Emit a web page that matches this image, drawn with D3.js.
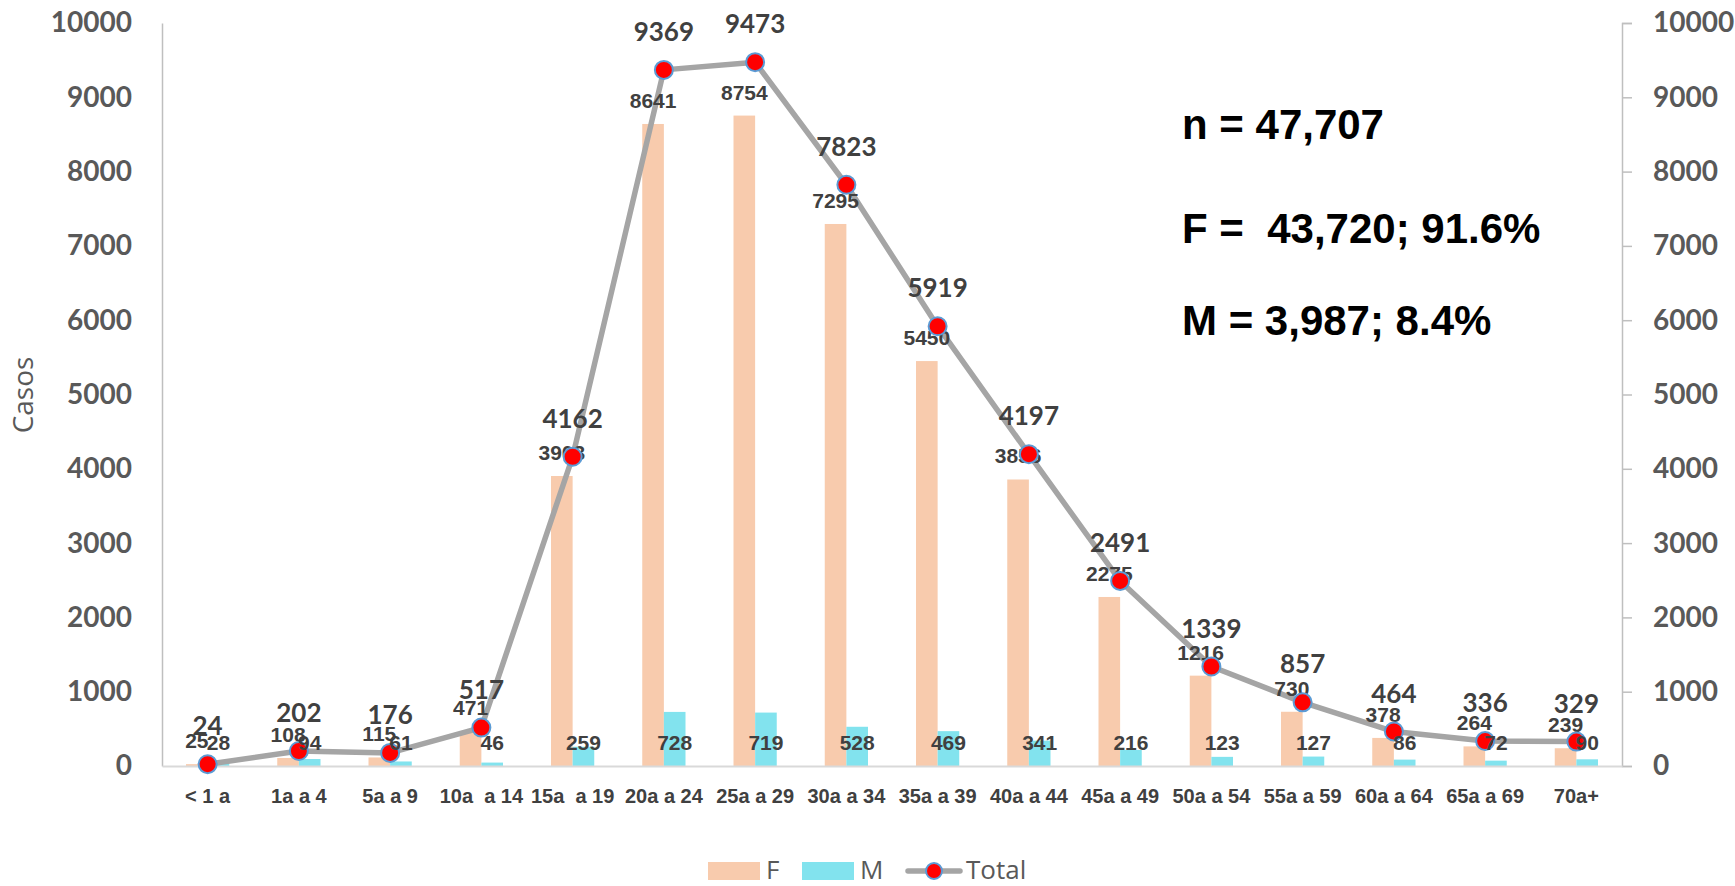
<!DOCTYPE html>
<html><head><meta charset="utf-8">
<script src="https://cdn.jsdelivr.net/npm/d3@7/dist/d3.min.js"></script>
<style>
html,body{margin:0;padding:0;background:#fff;}
svg{display:block;}
</style></head>
<body>
<svg id="chart" width="1735" height="886"></svg>
<script>
const categories = ["< 1 a","1a a 4","5a a 9","10a  a 14","15a  a 19","20a a 24","25a a 29","30a a 34","35a a 39","40a a 44","45a a 49","50a a 54","55a a 59","60a a 64","65a a 69","70a+"];
const femaleValues = [25,108,115,471,3903,8641,8754,7295,5450,3856,2275,1216,730,378,264,239];
const maleValues = [28,94,61,46,259,728,719,528,469,341,216,123,127,86,72,90];
const totalValues = [24,202,176,517,4162,9369,9473,7823,5919,4197,2491,1339,857,464,336,329];
const yTicks = [0,1000,2000,3000,4000,5000,6000,7000,8000,9000,10000];
const seriesNames = ["F","M","Total"];
const notes = ["n = 47,707","F =  43,720; 91.6%","M = 3,987; 8.4%"];
const yTitle = "Casos";

const colF = "#F8CBAD", colM = "#82E3EE", colLine = "#A5A5A5";
const svg = d3.select("#chart");
const L = 162, R = 1622, T = 23, B = 766;

const x = d3.scaleBand().domain(categories).range([L, R]).padding(0);
const x1 = d3.scaleBand().domain(["F","M"]).range([0, x.bandwidth()]).paddingInner(0).paddingOuter(1.11);
const y = d3.scaleLinear().domain([0, 10000]).range([B, T]);
const cx = c => x(c) + x.bandwidth()/2;

// axes
const la = svg.append("g").attr("transform", `translate(${L},0)`)
  .call(d3.axisLeft(y).tickValues(yTicks).tickSize(0).tickPadding(30).tickFormat(d3.format("d")));
la.select(".domain").attr("stroke", "#BFBFBF").attr("stroke-width", 1.5);
la.selectAll("text").attr("font-family","Lato, 'Open Sans', sans-serif").attr("font-weight","bold")
  .attr("font-size", 28).attr("fill","#595959");

const ra = svg.append("g").attr("transform", `translate(${R},0)`)
  .call(d3.axisRight(y).tickValues(yTicks).tickSize(10).tickPadding(21).tickFormat(d3.format("d")));
ra.select(".domain").attr("stroke", "#BFBFBF").attr("stroke-width", 1.5);
ra.selectAll(".tick line").attr("stroke", "#BFBFBF").attr("stroke-width", 1.5);
ra.selectAll("text").attr("font-family","Lato, 'Open Sans', sans-serif").attr("font-weight","bold")
  .attr("font-size", 28).attr("fill","#595959");

// bars
const g = svg.append("g");
g.selectAll("rect.f").data(categories).join("rect").attr("class","f")
  .attr("x", c => x(c) + x1("F")).attr("width", x1.bandwidth())
  .attr("y", (c,i) => y(femaleValues[i])).attr("height", (c,i) => B - y(femaleValues[i]))
  .attr("fill", colF);
g.selectAll("rect.m").data(categories).join("rect").attr("class","m")
  .attr("x", c => x(c) + x1("M")).attr("width", x1.bandwidth())
  .attr("y", (c,i) => y(maleValues[i])).attr("height", (c,i) => B - y(maleValues[i]))
  .attr("fill", colM);

// bottom axis
const ba = svg.append("g").attr("transform", `translate(0,${B})`)
  .call(d3.axisBottom(x).tickSize(0).tickPadding(23));
ba.select(".domain").attr("stroke", "#D9D9D9").attr("stroke-width", 2);
ba.selectAll("text").attr("font-family","'Liberation Sans', Arial, sans-serif").attr("font-weight","bold")
  .attr("font-size", 20).attr("fill","#404040").style("white-space","pre");

// total line
const line = d3.line().x((d,i) => cx(categories[i])).y(d => y(d));
svg.append("path").datum(totalValues).attr("d", line).attr("fill","none")
  .attr("stroke", colLine).attr("stroke-width", 5.5).attr("stroke-linejoin","round");

// F labels (outside end)
svg.append("g").selectAll("text").data(categories).join("text")
  .attr("x", c => x(c) + x1("F") + x1.bandwidth()/2)
  .attr("y", (c,i) => y(femaleValues[i]) - 16)
  .attr("text-anchor","middle").attr("font-family","'Liberation Sans', Arial, sans-serif")
  .attr("font-weight","bold").attr("font-size", 21).attr("fill","#404040")
  .text((c,i) => femaleValues[i]);

// dots
svg.append("g").selectAll("circle").data(totalValues).join("circle")
  .attr("cx", (d,i) => cx(categories[i])).attr("cy", d => y(d)).attr("r", 9)
  .attr("fill", "#FF0000").attr("stroke", "#5B9BD5").attr("stroke-width", 2);

// M labels (inside base)
svg.append("g").selectAll("text").data(categories).join("text")
  .attr("x", c => x(c) + x1("M") + x1.bandwidth()/2)
  .attr("y", B - 16)
  .attr("text-anchor","middle").attr("font-family","'Liberation Sans', Arial, sans-serif")
  .attr("font-weight","bold").attr("font-size", 21).attr("fill","#404040")
  .text((c,i) => maleValues[i]);

// total labels
svg.append("g").selectAll("text").data(totalValues).join("text")
  .attr("x", (d,i) => cx(categories[i])).attr("y", d => y(d) - 29)
  .attr("text-anchor","middle").attr("font-family","Lato, 'Open Sans', sans-serif")
  .attr("font-weight","bold").attr("font-size", 26).attr("fill","#404040")
  .text(d => d);

// y title
svg.append("text").attr("transform","translate(33,395) rotate(-90)")
  .attr("text-anchor","middle").attr("font-family","'Open Sans', Lato, sans-serif")
  .attr("font-size", 28).attr("fill","#595959").text(yTitle);

// notes
const noteY = [139, 243, 335];
svg.append("g").selectAll("text").data(notes).join("text")
  .attr("x", 1182).attr("y", (d,i) => noteY[i]).style("white-space","pre")
  .attr("font-family","'Liberation Sans', Arial, sans-serif").attr("font-weight","bold")
  .attr("font-size", 42).attr("fill","#000").text(d => d);

// legend
const lg = svg.append("g").attr("font-family","'Open Sans', Lato, sans-serif").attr("font-size", 26).attr("fill","#595959");
lg.append("rect").attr("x",708).attr("y",862).attr("width",52).attr("height",18).attr("fill",colF);
lg.append("text").attr("x",766).attr("y",879).text(seriesNames[0]);
lg.append("rect").attr("x",802).attr("y",862).attr("width",52).attr("height",18).attr("fill",colM);
lg.append("text").attr("x",860).attr("y",879).text(seriesNames[1]);
lg.append("line").attr("x1",908).attr("x2",960).attr("y1",871).attr("y2",871).attr("stroke",colLine).attr("stroke-width",5.5).attr("stroke-linecap","round");
lg.append("circle").attr("cx",934).attr("cy",871).attr("r",8).attr("fill","#FF0000").attr("stroke","#5B9BD5").attr("stroke-width",2);
lg.append("text").attr("x",966).attr("y",879).text(seriesNames[2]);
</script>
</body></html>
